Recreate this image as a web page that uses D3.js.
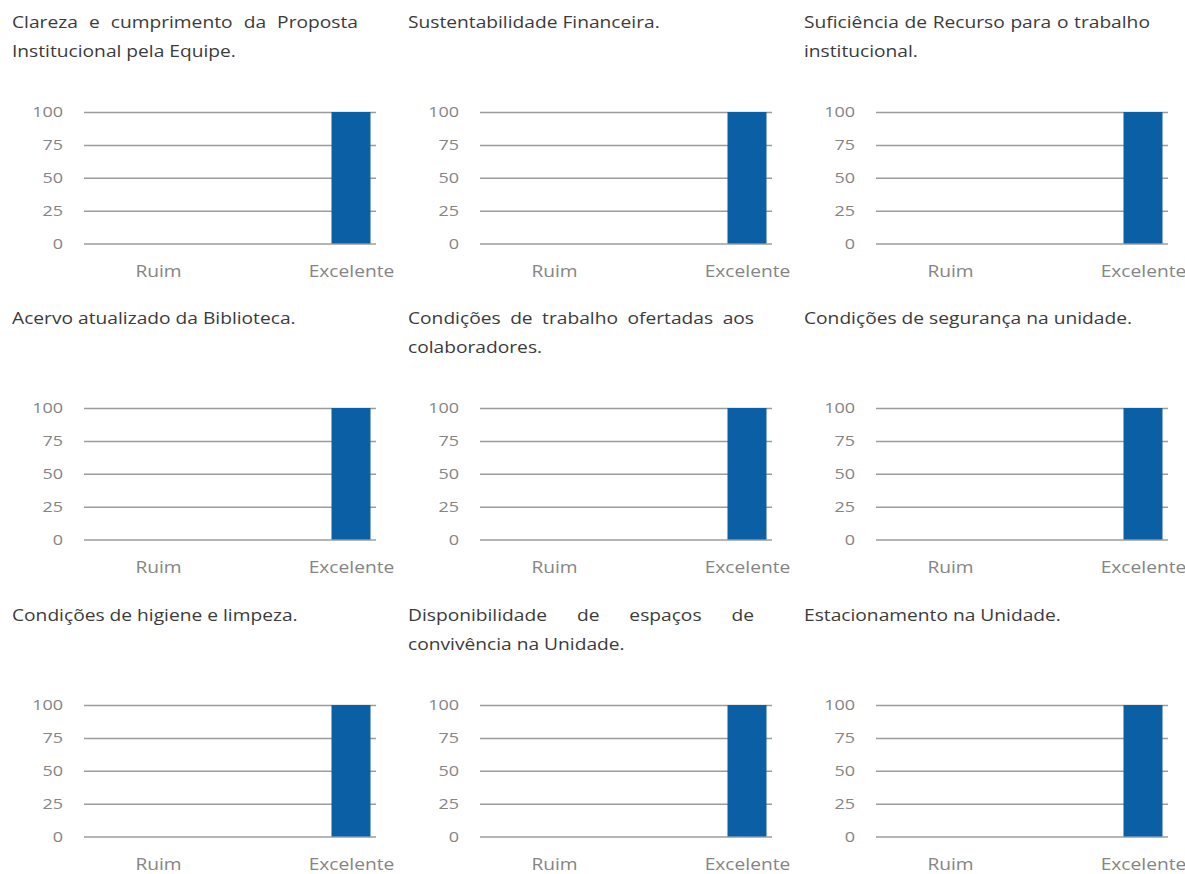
<!DOCTYPE html>
<html>
<head>
<meta charset="utf-8">
<script src="https://cdn.jsdelivr.net/npm/d3@7"></script>
<style>
  body { margin: 0; background: #fff; }
  text { font-family: "Open Sans", sans-serif; }
</style>
</head>
<body>
<script>
// titulos de cada painel (uma entrada por linha)
const titles = [
  ["Clareza e cumprimento da Proposta", "Institucional pela Equipe."],
  ["Sustentabilidade Financeira."],
  ["Suficiência de Recurso para o trabalho", "institucional."],
  ["Acervo atualizado da Biblioteca."],
  ["Condições de trabalho ofertadas aos", "colaboradores."],
  ["Condições de segurança na unidade."],
  ["Condições de higiene e limpeza."],
  ["Disponibilidade de espaços de", "convivência na Unidade."],
  ["Estacionamento na Unidade."]
];
const categories = ["Ruim", "Excelente"];
const ruimValues      = [0, 0, 0, 0, 0, 0, 0, 0, 0];
const excelenteValues = [100, 100, 100, 100, 100, 100, 100, 100, 100];
const yTicks = [0, 25, 50, 75, 100];

const colX = [0, 396, 792];
const rowY = [0, 296, 593];
const SX = 1.2; // texto mais largo como na imagem
const gridL = 84, gridR = 376, yTop = 112, yBot = 243.5;
const boxL = 12, boxW = 346;
const barW = 39;

const svg = d3.select("body").append("svg")
  .attr("width", 1185)
  .attr("height", 874);

const y = d3.scaleLinear().domain([0, 100]).range([yBot, yTop]);
const x = d3.scalePoint().domain(categories).range([158, 351]);

titles.forEach(function(lines, i){
  const g = svg.append("g")
    .attr("transform", "translate(" + colX[i % 3] + "," + rowY[Math.floor(i / 3)] + ")");

  // titulo justificado
  lines.forEach(function(line, li){
    const by = 28 + li * 29;
    const justify = li < lines.length - 1;
    if(!justify){
      g.append("text")
        .attr("transform", "translate(" + boxL + "," + by + ") scale(" + SX + ",1)")
        .style("font-size", "16px")
        .style("fill", "#3b3b3b")
        .text(line);
      return;
    }
    const words = line.split(" ");
    const nodes = words.map(w => g.append("text")
      .style("font-size", "16px")
      .style("fill", "#3b3b3b")
      .text(w));
    const widths = nodes.map(n => n.node().getComputedTextLength() * SX);
    const gap = (boxW - d3.sum(widths)) / (words.length - 1);
    let cx = boxL;
    nodes.forEach(function(n, k){
      n.attr("transform", "translate(" + cx + "," + by + ") scale(" + SX + ",1)");
      cx += widths[k] + gap;
    });
  });

  // eixo y + linhas de grade
  const ya = g.append("g")
    .attr("transform", "translate(" + gridL + ",0)")
    .call(d3.axisLeft(y).tickValues(yTicks).tickSize(-(gridR - gridL)).tickPadding(21));
  ya.select(".domain").remove();
  ya.selectAll("line")
    .attr("stroke", "#9c9c9c")
    .attr("stroke-width", 1.5);
  ya.selectAll("text")
    .attr("x", -21 / SX)
    .attr("transform", "scale(" + SX + ",1)")
    .style("font-size", "15px")
    .style("fill", "#858585");

  // barras
  const rows = categories.map((c, k) => ({cat: c, value: k == 0 ? ruimValues[i] : excelenteValues[i]}));
  g.append("g").selectAll("rect")
    .data(rows)
    .enter()
    .append("rect")
    .attr("x", d => x(d.cat) - barW / 2)
    .attr("y", d => y(d.value))
    .attr("width", barW)
    .attr("height", d => y(0) - y(d.value))
    .style("fill", "#0b5fa5");

  // eixo x
  const xa = g.append("g")
    .attr("transform", "translate(0," + yBot + ")")
    .call(d3.axisBottom(x).tickSize(0).tickPadding(22));
  xa.select(".domain").remove();
  xa.selectAll("text")
    .attr("transform", "scale(" + SX + ",1)")
    .style("font-size", "16px")
    .style("fill", "#858585");
});
</script>
</body>
</html>
